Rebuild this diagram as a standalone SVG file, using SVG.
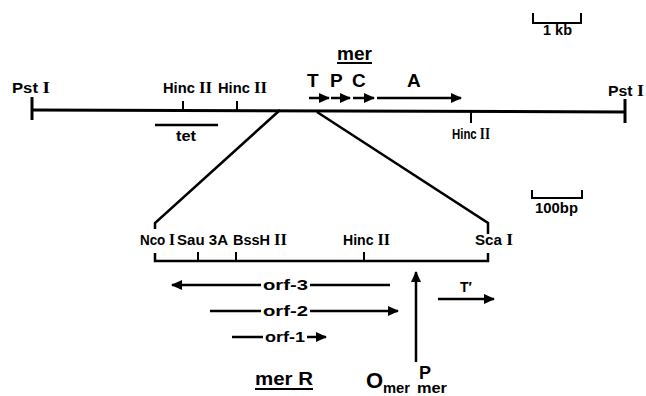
<svg xmlns="http://www.w3.org/2000/svg" width="646" height="396" viewBox="0 0 646 396">
<defs>
<style>
text{font-family:"Liberation Sans",Arial,sans-serif;font-weight:bold;fill:#000}
.rn{font-family:"Liberation Serif","Times New Roman",serif;font-weight:bold;font-size:16px}
.lbl{font-size:14px}
.big{font-size:19px}
.ln{stroke:#000;stroke-width:3;fill:none}
.th{stroke:#000;stroke-width:2.5;fill:none}
.tk{stroke:#000;stroke-width:2;fill:none}
</style>
<marker id="ah" markerUnits="userSpaceOnUse" markerWidth="11" markerHeight="10" refX="10" refY="5" orient="auto">
<path d="M0,0 L11,5 L0,10 Z" fill="#000"/>
</marker>
</defs>
<rect width="646" height="396" fill="#fff"/>

<g id="scale-1kb">
<path class="tk" d="M533,13 V23 H581 V13"/>
<text class="lbl" x="543" y="35" font-size="12" textLength="29" lengthAdjust="spacingAndGlyphs">1 kb</text>
</g>

<g id="scale-100bp">
<path class="tk" d="M532,190 V198 H582 V190"/>
<text class="lbl" x="535" y="213" textLength="43" lengthAdjust="spacingAndGlyphs">100bp</text>
</g>

<g id="mer-operon">
<text class="big" x="337" y="60" textLength="35" lengthAdjust="spacingAndGlyphs">mer</text>
<line class="tk" x1="337" y1="63" x2="372" y2="63"/>
<text class="big" x="307" y="87">T</text>
<text class="big" x="330" y="87">P</text>
<text class="big" x="352" y="87">C</text>
<text class="big" x="407" y="87">A</text>
</g>

<g id="top-map">
<line class="ln" x1="32" y1="110" x2="626" y2="112"/>
<line class="ln" x1="32" y1="97" x2="32" y2="120"/>
<line class="ln" x1="625" y1="99" x2="625" y2="123"/>
<line class="tk" x1="183" y1="110" x2="183" y2="101"/>
<line class="tk" x1="237" y1="110" x2="237" y2="101"/>
<line class="tk" x1="471" y1="112" x2="471" y2="123"/>
<text class="lbl" x="12" y="93" textLength="38" lengthAdjust="spacingAndGlyphs">Pst <tspan class="rn">I</tspan></text>
<text class="lbl" x="608" y="96" textLength="36" lengthAdjust="spacingAndGlyphs">Pst <tspan class="rn">I</tspan></text>
<text class="lbl" x="163" y="93" textLength="49" lengthAdjust="spacingAndGlyphs">Hinc <tspan class="rn">II</tspan></text>
<text class="lbl" x="218" y="93" textLength="49" lengthAdjust="spacingAndGlyphs">Hinc <tspan class="rn">II</tspan></text>
<text class="lbl" x="452" y="139" textLength="38" lengthAdjust="spacingAndGlyphs">Hinc <tspan class="rn">II</tspan></text>
<line class="th" x1="155" y1="125" x2="218" y2="125"/>
<text class="lbl" x="176" y="141" textLength="20" lengthAdjust="spacingAndGlyphs">tet</text>
</g>

<g id="detail-map">
<path class="th" d="M155,253 V261 H488 V253"/>
<line class="tk" x1="198" y1="252" x2="198" y2="261"/>
<line class="tk" x1="236" y1="252" x2="236" y2="261"/>
<line class="tk" x1="364" y1="252" x2="364" y2="261"/>
<text class="lbl" x="140" y="245" textLength="35" lengthAdjust="spacingAndGlyphs">Nco <tspan class="rn">I</tspan></text>
<text class="lbl" x="177" y="245" textLength="51" lengthAdjust="spacingAndGlyphs">Sau 3A</text>
<text class="lbl" x="233" y="245" textLength="54" lengthAdjust="spacingAndGlyphs">BssH <tspan class="rn">II</tspan></text>
<text class="lbl" x="343" y="245" textLength="47" lengthAdjust="spacingAndGlyphs">Hinc <tspan class="rn">II</tspan></text>
<text class="lbl" x="475" y="245" textLength="38" lengthAdjust="spacingAndGlyphs">Sca <tspan class="rn">I</tspan></text>
</g>

<g id="orf-labels">
<text class="lbl" x="263" y="290" textLength="45" lengthAdjust="spacingAndGlyphs">orf-3</text>
<text class="lbl" x="263" y="316" textLength="45" lengthAdjust="spacingAndGlyphs">orf-2</text>
<text class="lbl" x="265" y="342" textLength="40" lengthAdjust="spacingAndGlyphs">orf-1</text>
<text class="lbl" x="460" y="292">T′</text>
</g>

<g id="merR">
<text class="big" x="255" y="385" textLength="58" lengthAdjust="spacingAndGlyphs">mer R</text>
<line class="tk" x1="255" y1="389" x2="313" y2="389"/>
</g>

<g id="operator-promoter">
<text x="366" y="388" font-size="22">O</text>
<text x="383" y="393" font-size="15" textLength="27" lengthAdjust="spacingAndGlyphs">mer</text>
<text x="419" y="379" font-size="18">P</text>
<text x="417" y="393" font-size="15" textLength="30" lengthAdjust="spacingAndGlyphs">mer</text>
</g>

<g id="connectors">
<polyline class="th" points="280,110 155,223 155,229"/>
<polyline class="th" points="317,112 488,223 488,234"/>
<line class="th" x1="309" y1="98" x2="329" y2="98" marker-end="url(#ah)"/>
<line class="th" x1="331" y1="98" x2="350" y2="98" marker-end="url(#ah)"/>
<line class="th" x1="353" y1="98" x2="374" y2="98" marker-end="url(#ah)"/>
<line class="th" x1="377" y1="98" x2="461" y2="98" marker-end="url(#ah)"/>
<line class="th" x1="261" y1="285" x2="172" y2="285" marker-end="url(#ah)"/>
<line class="th" x1="310" y1="285" x2="390" y2="285"/>
<line class="th" x1="210" y1="311" x2="261" y2="311"/>
<line class="th" x1="310" y1="311" x2="398" y2="311" marker-end="url(#ah)"/>
<line class="th" x1="232" y1="337" x2="263" y2="337"/>
<line class="th" x1="307" y1="337" x2="326" y2="337" marker-end="url(#ah)"/>
<line class="th" x1="416" y1="362" x2="416" y2="272" marker-end="url(#ah)"/>
<line class="th" x1="438" y1="299" x2="494" y2="299" marker-end="url(#ah)"/>
</g>
</svg>
